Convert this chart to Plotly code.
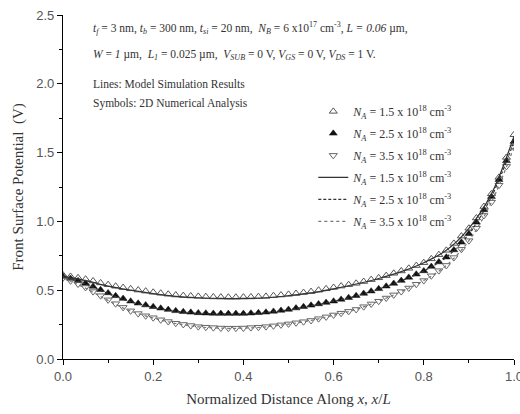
import numpy as np
import plotly.graph_objects as go

# ---- data ----
x_sym = [k / 60 for k in range(61)]
sym_15 = [0.610, 0.600, 0.590, 0.580, 0.567, 0.553, 0.540, 0.529, 0.519, 0.510,
          0.501, 0.493, 0.485, 0.478, 0.471, 0.465, 0.461, 0.458, 0.455, 0.453,
          0.451, 0.450, 0.449, 0.449, 0.450, 0.451, 0.453, 0.455, 0.460, 0.465,
          0.470, 0.476, 0.483, 0.490, 0.500, 0.510, 0.520, 0.530, 0.540, 0.550,
          0.563, 0.577, 0.590, 0.606, 0.623, 0.640, 0.659, 0.679, 0.700, 0.728,
          0.758, 0.790, 0.840, 0.893, 0.950, 1.025, 1.108, 1.200, 1.320, 1.465, 1.630]
sym_25 = [0.600, 0.585, 0.568, 0.550, 0.527, 0.503, 0.480, 0.459, 0.439, 0.420,
          0.405, 0.392, 0.380, 0.369, 0.359, 0.350, 0.344, 0.339, 0.335, 0.333,
          0.331, 0.330, 0.330, 0.330, 0.330, 0.333, 0.336, 0.340, 0.346, 0.353,
          0.360, 0.370, 0.380, 0.390, 0.400, 0.410, 0.420, 0.433, 0.446, 0.460,
          0.476, 0.493, 0.510, 0.529, 0.549, 0.570, 0.593, 0.616, 0.640, 0.672,
          0.705, 0.740, 0.792, 0.848, 0.910, 0.993, 1.083, 1.180, 1.303, 1.440, 1.580]
sym_35 = [0.590, 0.568, 0.545, 0.520, 0.490, 0.460, 0.430, 0.402, 0.375, 0.350,
          0.330, 0.314, 0.300, 0.285, 0.272, 0.260, 0.251, 0.243, 0.235, 0.231,
          0.228, 0.225, 0.224, 0.224, 0.225, 0.228, 0.231, 0.235, 0.241, 0.248,
          0.255, 0.263, 0.271, 0.280, 0.293, 0.306, 0.320, 0.333, 0.346, 0.360,
          0.380, 0.400, 0.420, 0.443, 0.466, 0.490, 0.516, 0.543, 0.570, 0.605,
          0.642, 0.680, 0.737, 0.797, 0.860, 0.950, 1.043, 1.140, 1.263, 1.400, 1.540]

x_line = [k / 20 for k in range(21)]
line_15 = [0.60, 0.57, 0.53, 0.50, 0.475, 0.455, 0.445, 0.44, 0.44, 0.445, 0.46,
           0.48, 0.51, 0.545, 0.585, 0.635, 0.70, 0.79, 0.95, 1.20, 1.62]
line_25 = [0.60, 0.545, 0.475, 0.415, 0.375, 0.348, 0.333, 0.328, 0.328, 0.338, 0.358,
           0.388, 0.42, 0.458, 0.508, 0.568, 0.64, 0.74, 0.91, 1.18, 1.58]
line_35 = [0.59, 0.515, 0.425, 0.348, 0.298, 0.258, 0.234, 0.224, 0.224, 0.234, 0.254,
           0.28, 0.318, 0.36, 0.42, 0.49, 0.57, 0.68, 0.86, 1.14, 1.54]

na_labels = ["1.5", "2.5", "3.5"]
x_ticks = [0.0, 0.2, 0.4, 0.6, 0.8, 1.0]
y_ticks = [0.0, 0.5, 1.0, 1.5, 2.0, 2.5]

SERIF = "Liberation Serif"
SANS = "Liberation Sans"


def na_name(v):
    return f"<i>N</i><sub><i>A</i></sub> = {v} x 10<sup>18</sup> cm<sup>-3</sup>"


fig = go.Figure()
sym_styles = [
    dict(symbol="triangle-up-open", color="#555555", size=7, line=dict(width=1, color="#555555")),
    dict(symbol="triangle-up", color="#111111", size=7, line=dict(width=0.5, color="#111111")),
    dict(symbol="triangle-down-open", color="#666666", size=7, line=dict(width=1, color="#666666")),
]
for i, (ys, st, lab) in enumerate(zip([sym_15, sym_25, sym_35], sym_styles, na_labels)):
    fig.add_trace(go.Scatter(x=x_sym, y=ys, mode="markers", marker=st, name=na_name(lab),
                             legendgroup=f"s{i}"))

line_styles = [
    dict(color="#333333", width=1.2, dash="solid", shape="spline"),
    dict(color="#333333", width=1.2, dash="3px,2px", shape="spline"),
    dict(color="#777777", width=1.2, dash="dot", shape="spline"),
]
for i, (ys, st, lab) in enumerate(zip([line_15, line_25, line_35], line_styles, na_labels)):
    fig.add_trace(go.Scatter(x=x_line, y=ys, mode="lines", line=st, name=na_name(lab),
                             legendgroup=f"l{i}"))

ax_common = dict(
    showline=True, linecolor="black", linewidth=1.2, showgrid=False, zeroline=False,
    ticks="outside", ticklen=5, tickwidth=1, tickcolor="black",
    tickfont=dict(family=SANS, size=13, color="#555555"),
    ticklabeloverflow="allow", automargin=False,
)
fig.update_xaxes(
    range=[0, 1], tickvals=x_ticks, ticktext=[f"{v:.1f}" for v in x_ticks],
    minor=dict(dtick=0.1, ticklen=3, ticks="outside", tickcolor="black"),
    title=dict(text="Normalized Distance Along <i>x</i>, <i>x</i>/<i>L</i>",
               font=dict(family=SERIF, size=15, color="#333333"), standoff=10),
    **ax_common,
)
fig.update_yaxes(
    range=[0, 2.5], tickvals=y_ticks, ticktext=[f"{v:.1f}" for v in y_ticks],
    minor=dict(dtick=0.25, ticklen=3, ticks="outside", tickcolor="black"),
    title=dict(text="Front Surface Potential  (V)",
               font=dict(family=SERIF, size=15, color="#333333"), standoff=8),
    **ax_common,
)

ann_font = dict(family=SERIF, size=11.5, color="#333333")
texts = [
    ("<i>t</i><sub><i>f</i></sub> = 3 nm, <i>t</i><sub><i>b</i></sub> = 300 nm, "
     "<i>t</i><sub><i>si</i></sub> = 20 nm,  <i>N</i><sub><i>B</i></sub> = 6 x10<sup>17</sup> cm<sup>-3</sup>, "
     "<i>L = 0.06</i> µm,", 0.962),
    ("<i>W</i> = <i>1</i> µm,  <i>L</i><sub><i>1</i></sub> = 0.025 µm,  <i>V</i><sub><i>SUB</i></sub> = 0 V, "
     "<i>V</i><sub><i>GS</i></sub> = 0 V, <i>V</i><sub><i>DS</i></sub> = 1 V.", 0.884),
    ("Lines: Model Simulation Results", 0.800),
    ("Symbols: 2D Numerical Analysis", 0.742),
]
for t, yy in texts:
    fig.add_annotation(text=t, x=0.062, y=yy, xref="paper", yref="paper",
                       xanchor="left", yanchor="middle", showarrow=False, font=ann_font)

fig.update_layout(
    width=520, height=414,
    font=dict(family=SERIF, color="#333333"),
    margin=dict(l=63, r=6, t=15, b=55, autoexpand=False),
    plot_bgcolor="white", paper_bgcolor="white",
    legend=dict(x=0.555, y=0.762, xanchor="left", yanchor="top",
                font=dict(family=SERIF, size=12, color="#333333"),
                bgcolor="rgba(0,0,0,0)", tracegroupgap=3, itemwidth=30,
                traceorder="grouped"),
)

fig.write_html("out.html", post_script="document.body.style.margin='0';",
               config={"displayModeBar": False})
